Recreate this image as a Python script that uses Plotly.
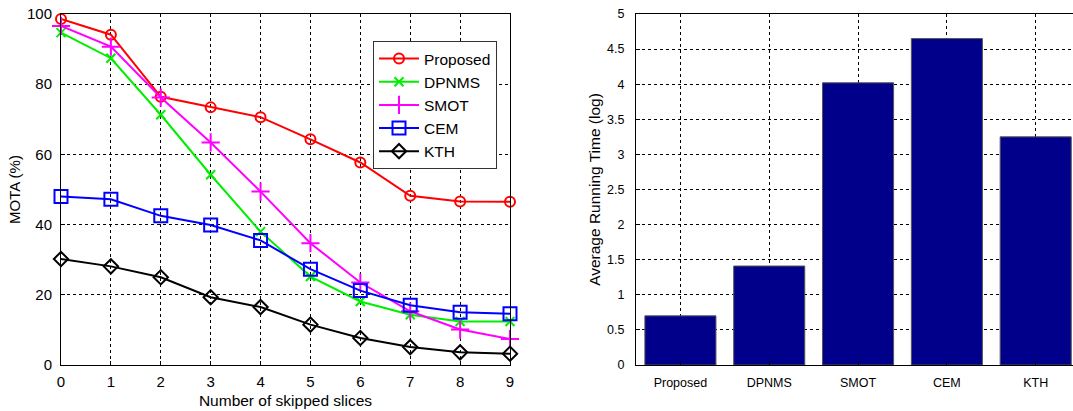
import plotly.graph_objects as go

skipped = [0, 1, 2, 3, 4, 5, 6, 7, 8, 9]
proposed = [98.6, 94.1, 76.4, 73.4, 70.6, 64.3, 57.7, 48.2, 46.6, 46.5]
dpnms = [94.7, 87.4, 71.3, 54.2, 38.0, 25.2, 18.1, 14.3, 12.4, 12.4]
smot = [96.6, 90.7, 76.2, 63.4, 49.4, 34.7, 23.5, 15.3, 10.1, 7.4]
cem = [48.0, 47.2, 42.5, 39.9, 35.5, 27.3, 21.2, 17.0, 15.0, 14.6]
kth = [30.2, 28.1, 25.0, 19.3, 16.5, 11.5, 7.7, 5.1, 3.6, 3.2]

methods = ["Proposed", "DPNMS", "SMOT", "CEM", "KTH"]
run_time = [0.70, 1.41, 4.02, 4.65, 3.25]

FONT = "Liberation Sans, Arial, sans-serif"
W, H = 1073, 411

fig = go.Figure()
series = [
    ("Proposed", proposed, "#ff0000", "circle-open", 10),
    ("DPNMS", dpnms, "#00ee00", "x-thin-open", 9),
    ("SMOT", smot, "#ff00ff", "cross-thin-open", 13),
    ("CEM", cem, "#0000ff", "square-open", 13),
    ("KTH", kth, "#000000", "diamond-open", 11),
]
for name, vals, col, sym, sz in series:
    fig.add_trace(go.Scatter(
        x=skipped, y=vals, name=name, mode="lines+markers",
        line=dict(color=col, width=2),
        marker=dict(symbol=sym, size=sz, color=col, line=dict(color=col, width=2)),
        xaxis="x", yaxis="y", cliponaxis=False,
    ))

fig.add_trace(go.Bar(
    x=list(range(len(methods))), y=run_time, width=0.8,
    marker=dict(color="#00008b", line=dict(color="#555555", width=1)),
    showlegend=False, xaxis="x2", yaxis="y2",
))

axis_common = dict(
    showline=True, linecolor="black", linewidth=1, mirror=True,
    showgrid=True, gridcolor="black", griddash="dot", gridwidth=1,
    ticks="inside", ticklen=4, tickcolor="black", zeroline=False,
    automargin=False, ticklabeloverflow="allow",
)

fig.update_layout(
    width=W, height=H,
    margin=dict(l=0, r=0, t=14, b=46),
    paper_bgcolor="white", plot_bgcolor="white",
    font=dict(family=FONT, color="black"),
    xaxis=dict(domain=[61/W, 510/W], range=[0, 9], dtick=1,
               title=dict(text="Number of skipped slices", font=dict(size=15.5), standoff=6),
               tickfont=dict(size=15), ticklabelstandoff=3, **axis_common),
    yaxis=dict(range=[0, 100], dtick=20,
               title=dict(text="MOTA (%)", font=dict(size=15), standoff=2),
               tickfont=dict(size=15), ticklabelstandoff=5, **axis_common),
    xaxis2=dict(domain=[636/W, 1.0], range=[-0.5, 4.42], anchor="y2",
                tickvals=list(range(len(methods))), ticktext=methods,
                tickfont=dict(size=12.5), ticklabelstandoff=6, **axis_common),
    yaxis2=dict(range=[0, 5], dtick=0.5, anchor="x2",
                title=dict(text="Average Running Time (log)", font=dict(size=15.5), standoff=2),
                tickfont=dict(size=12.5), ticklabelstandoff=8, **axis_common),
    legend=dict(x=373/W, y=1 - (41 - 14) / 351, xref="paper", yref="paper",
                xanchor="left", yanchor="top",
                bgcolor="white", bordercolor="#333333", borderwidth=1,
                font=dict(size=15.5), itemwidth=40, tracegroupgap=0),
    bargap=0.2,
)

fig.write_html("out.html", config={"displayModeBar": False},
               post_script="document.body.style.margin='0';document.body.style.overflow='hidden';")
